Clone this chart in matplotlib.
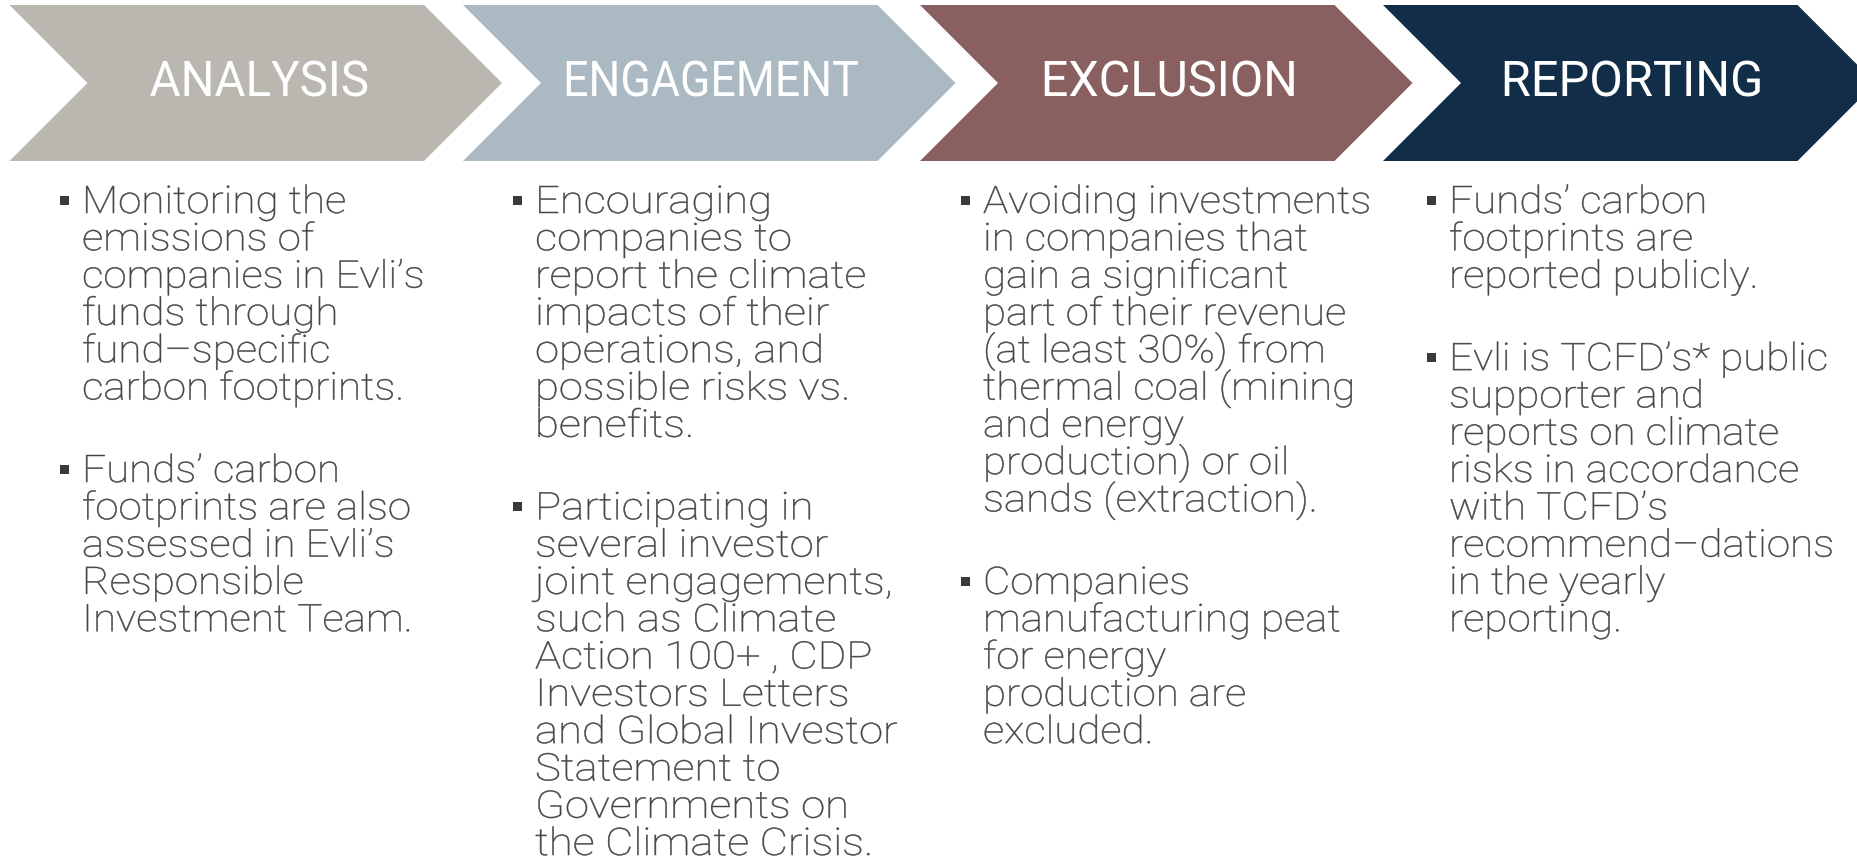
import matplotlib
matplotlib.use("Agg")
import matplotlib.pyplot as plt
from matplotlib.patches import Polygon, PathPatch, Rectangle
from matplotlib.textpath import TextPath
from matplotlib.font_manager import FontProperties
import matplotlib.transforms as mtransforms

# stage headers and colours
headers = ["ANALYSIS", "ENGAGEMENT", "EXCLUSION", "REPORTING"]
colors = ["#BAB7B0", "#ABB9C2", "#8A5F60", "#122D48"]

# bullet texts, one list of lines per bullet
analysis_text = [
    ["Monitoring the", "emissions of", "companies in Evli’s", "funds through",
     "fund–specific", "carbon footprints."],
    ["Funds’ carbon", "footprints are also", "assessed in Evli’s",
     "Responsible", "Investment Team."],
]
engagement_text = [
    ["Encouraging", "companies to", "report the climate", "impacts of their",
     "operations, and", "possible risks vs.", "benefits."],
    ["Participating in", "several investor", "joint engagements,",
     "such as Climate", "Action 100+ , CDP", "Investors Letters",
     "and Global Investor", "Statement to", "Governments on",
     "the Climate Crisis."],
]
exclusion_text = [
    ["Avoiding investments", "in companies that", "gain a significant",
     "part of their revenue", "(at least 30%) from", "thermal coal (mining",
     "and energy", "production) or oil", "sands (extraction)."],
    ["Companies", "manufacturing peat", "for energy", "production are",
     "excluded."],
]
reporting_text = [
    ["Funds’ carbon", "footprints are", "reported publicly."],
    ["Evli is TCFD’s* public", "supporter and", "reports on climate",
     "risks in accordance", "with TCFD’s", "recommend–dations",
     "in the yearly", "reporting."],
]
columns = [analysis_text, engagement_text, exclusion_text, reporting_text]

W, H = 1857, 859
fig = plt.figure(figsize=(W / 100, H / 100), dpi=100)
ax = fig.add_axes([0, 0, 1, 1])
ax.set_xlim(0, W)
ax.set_ylim(H, 0)
ax.axis("off")

# layout (pixels)
chev_x0 = [9.5, 463, 920, 1383]
chev_w, chev_d = 414.5, 78
chev_top, chev_bot = 5, 161
head_base, head_cap = 96, 35
head_width = [217, 291, 249, 255]
text_x = [82, 535, 983, 1449]
col_width = [338, 360, 385, 379]
base0, pitch, para_gap = 213, 37.3, 45.2
body_cap = 27
text_color = "#454545"

head_fp = FontProperties(family=["Roboto", "DejaVu Sans"])
body_fp = FontProperties(family=["Roboto", "DejaVu Sans"], weight="light")


def path_of(s, fp):
    return TextPath((0, 0), s, size=1, prop=fp)


def draw_path(s, fp, x, y, em, sx, color, center=False, lw=0):
    tp = path_of(s, fp)
    ext = tp.get_extents()
    shift = -(ext.x0 + ext.width / 2) if center else 0
    tr = mtransforms.Affine2D().translate(shift, 0).scale(sx * em, -em).translate(x, y)
    ax.add_patch(PathPatch(tr.transform_path(tp), fc=color,
                           ec=color if lw else "none", lw=lw))


def cap_height(fp):
    return path_of("H", fp).get_extents().height


def text_width(s, fp):
    return path_of(s, fp).get_extents().width


mid = (chev_top + chev_bot) / 2
head_em = head_cap / cap_height(head_fp)

for x0, name, c, hw in zip(chev_x0, headers, colors, head_width):
    pts = [(x0, chev_top), (x0 + chev_w, chev_top), (x0 + chev_w + chev_d, mid),
           (x0 + chev_w, chev_bot), (x0, chev_bot), (x0 + chev_d, mid)]
    ax.add_patch(Polygon(pts, closed=True, fc=c, ec="none"))
    cx = x0 + (chev_d + chev_w) / 2 + 3
    sx = hw / (text_width(name, head_fp) * head_em)
    draw_path(name, head_fp, cx, head_base, head_em, sx, "white", center=True)

body_em = body_cap / cap_height(body_fp)
for i, paras in enumerate(columns):
    widest = max(text_width(s, body_fp) for p in paras for s in p)
    sx = col_width[i] / (widest * body_em)
    y = base0
    for p in paras:
        ax.add_patch(Rectangle((text_x[i] - 22, y - 17), 9, 9, fc="#3A3A3A", ec="none"))
        for s in p:
            draw_path(s, body_fp, text_x[i], y, body_em, sx, text_color, lw=0.35)
            y += pitch
        y += para_gap

fig.savefig("out.png", dpi=100, facecolor="white")
